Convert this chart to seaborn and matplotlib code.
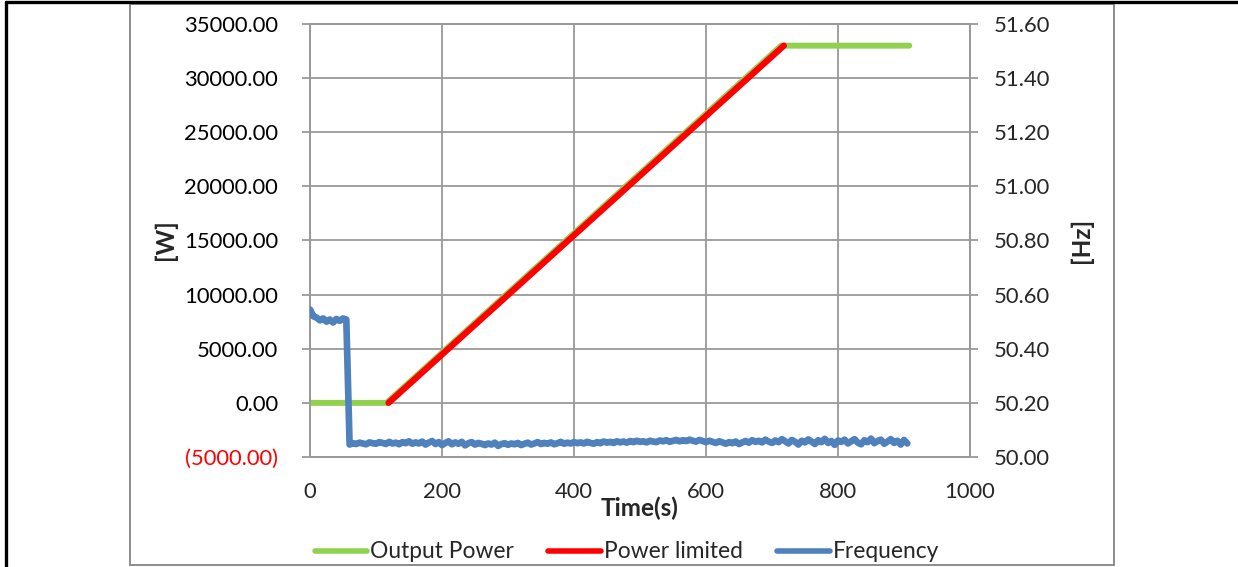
import numpy as np
import pandas as pd
import matplotlib
matplotlib.use("Agg")
import matplotlib.pyplot as plt
from matplotlib.lines import Line2D
from matplotlib.patches import Rectangle
import seaborn as sns

# ---------------- data ----------------
out_time = [0, 116, 714, 908]
out_power = [0, 0, 33000, 33000]

lim_time = [119, 718]
lim_power = [0, 33000]

freq_step = 5
freq_hz = [
    50.545, 50.520, 50.515, 50.505, 50.512, 50.500, 50.508, 50.497, 50.510, 50.503, 50.512, 50.508,
    50.046, 50.051, 50.048, 50.053, 50.050, 50.047, 50.054, 50.051, 50.049, 50.055,
    50.052, 50.048, 50.056, 50.050, 50.053, 50.047, 50.055, 50.051, 50.058, 50.049,
    50.054, 50.050, 50.057, 50.046, 50.053, 50.059, 50.048, 50.055, 50.044, 50.052,
    50.058, 50.047, 50.054, 50.049, 50.056, 50.043, 50.051, 50.055, 50.046, 50.052,
    50.049, 50.044, 50.050, 50.046, 50.053, 50.041, 50.048, 50.051, 50.045, 50.050,
    50.047, 50.052, 50.044, 50.049, 50.053, 50.046, 50.050, 50.055, 50.048, 50.052,
    50.049, 50.054, 50.047, 50.051, 50.056, 50.049, 50.053, 50.050, 50.055, 50.051,
    50.054, 50.050, 50.056, 50.052, 50.049, 50.055, 50.051, 50.057, 50.053, 50.056,
    50.052, 50.058, 50.054, 50.057, 50.053, 50.059, 50.055, 50.060, 50.056, 50.058,
    50.054, 50.060, 50.057, 50.055, 50.061, 50.058, 50.062, 50.056, 50.060, 50.063,
    50.058, 50.062, 50.059, 50.064, 50.060, 50.057, 50.063, 50.059, 50.055, 50.060,
    50.056, 50.052, 50.058, 50.054, 50.049, 50.055, 50.051, 50.057, 50.048, 50.054,
    50.059, 50.053, 50.062, 50.056, 50.060, 50.054, 50.064, 50.057, 50.052, 50.061,
    50.055, 50.066, 50.058, 50.050, 50.063, 50.056, 50.046, 50.060, 50.054, 50.065,
    50.057, 50.048, 50.062, 50.055, 50.067, 50.052, 50.059, 50.045, 50.061, 50.056,
    50.064, 50.050, 50.058, 50.066, 50.053, 50.047, 50.062, 50.055, 50.068, 50.051,
    50.059, 50.064, 50.049, 50.057, 50.066, 50.052, 50.060, 50.046, 50.063, 50.050,
]
freq_time = [i * freq_step for i in range(len(freq_hz))]

x_ticks = [0, 200, 400, 600, 800, 1000]
w_ticks = [-5000, 0, 5000, 10000, 15000, 20000, 25000, 30000, 35000]
hz_ticks = [50.00, 50.20, 50.40, 50.60, 50.80, 51.00, 51.20, 51.40, 51.60]

series_names = ["Output Power", "Power limited", "Frequency"]
colors = ["#92D050", "#FF0000", "#4F81BD"]

# ---------------- plotting ----------------
sns.set_style("white")
plt.rcParams["font.family"] = ["Lato", "DejaVu Sans"]

W, H = 1238, 567
fig = plt.figure(figsize=(W / 100, H / 100), dpi=100)

def fx(px):
    return px / W

def fy(py):
    return 1 - py / H

# frames
fig.add_artist(Line2D([fx(6), fx(1238)], [fy(2), fy(2)], color="black", lw=2.4))
fig.add_artist(Line2D([fx(6), fx(6)], [fy(2), fy(567)], color="black", lw=2.4))
fig.add_artist(Rectangle((fx(130), fy(565)), fx(1114) - fx(130), fy(4) - fy(565),
                         transform=fig.transFigure, fill=False, edgecolor="#8c8c8c", lw=1.4))

ax = fig.add_axes([fx(310), fy(457), fx(970) - fx(310), fy(24) - fy(457)])
ax2 = ax.twinx()

grid_c = "#9a9a9a"

df_out = pd.DataFrame({"t": out_time, "P": out_power})
df_lim = pd.DataFrame({"t": lim_time, "P": lim_power})
df_f = pd.DataFrame({"t": freq_time, "f": freq_hz})

sns.lineplot(data=df_out, x="t", y="P", ax=ax, color=colors[0], lw=4.3,
             solid_capstyle="round", solid_joinstyle="round", zorder=3)
sns.lineplot(data=df_lim, x="t", y="P", ax=ax, color=colors[1], lw=4.5,
             solid_capstyle="round", zorder=4)
sns.lineplot(data=df_f, x="t", y="f", ax=ax2, color=colors[2], lw=4.8,
             solid_capstyle="round", solid_joinstyle="round", zorder=3)

ax.set_xlim(0, 1000)
ax.set_ylim(-5000, 35000)
ax2.set_ylim(50.00, 51.60)

ax.grid(True, color=grid_c, lw=1.3)
ax.set_axisbelow(True)
for a in (ax, ax2):
    for s in a.spines.values():
        s.set_color(grid_c)
        s.set_linewidth(1.3)

ax.tick_params(axis="y", direction="out", length=6, width=1.3, color=grid_c,
               pad=17, labelsize=15.8, left=True)
ax.tick_params(axis="x", length=0, pad=18, labelsize=15.8)
ax2.tick_params(axis="y", direction="out", length=6, width=1.3, color=grid_c,
                pad=11, labelsize=15.8, right=True)

ax.set_xticks(x_ticks)
ax.set_xticklabels([str(v) for v in x_ticks])
ax.set_yticks(w_ticks)
w_labels = [f"({abs(v):.2f})" if v < 0 else f"{v:.2f}" for v in w_ticks]
ax.set_yticklabels(w_labels)
for lab, v in zip(ax.get_yticklabels(), w_ticks):
    lab.set_color("red" if v < 0 else "black")
ax2.set_yticks(hz_ticks)
ax2.set_yticklabels([f"{v:.2f}" for v in hz_ticks])

ax.set_xlabel("")
ax.set_ylabel("")
ax2.set_ylabel("")
ax2.set_xlabel("")

fig.text(fx(640), fy(508), "Time(s)", ha="center", va="center", fontsize=17.5, fontweight="bold")
fig.text(fx(165), fy(240), "[W]", ha="center", va="center", rotation=90, fontsize=17.5, fontweight="bold")
fig.text(fx(1081), fy(240), "[Hz]", ha="center", va="center", rotation=90, fontsize=17.5, fontweight="bold")

handles = [Line2D([], [], color=c, lw=4.0) for c in colors]
fig.legend(handles, series_names, loc="center", bbox_to_anchor=(fx(627), fy(552)),
           ncol=3, frameon=False, fontsize=16.4, handlelength=2.3, handletextpad=0.15,
           columnspacing=1.5, borderaxespad=0, borderpad=0)

fig.savefig("out.png", dpi=100)
